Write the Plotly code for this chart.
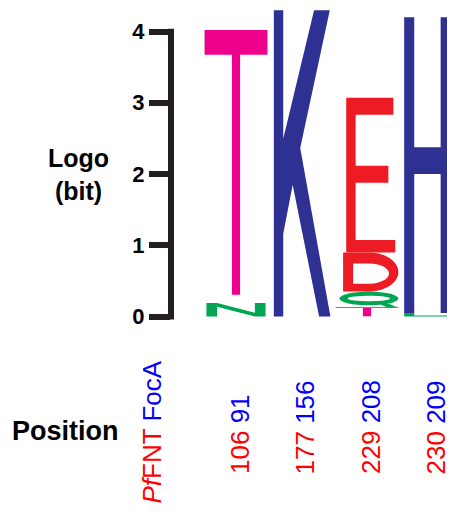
import numpy as np
import plotly.graph_objects as go

# sequence logo: letters stacked bottom -> top, heights in bits
columns = [1, 2, 3, 4]
col_letters = [["N", "T"], ["K"], ["T", "Q", "D", "E"], ["L", "H"]]
col_bits = [[0.19, 3.83], [4.30], [0.13, 0.22, 0.55, 2.17], [0.05, 4.15]]

# residue numbers under each column
pfnt_pos = ["106", "177", "229", "230"]
foca_pos = ["91", "156", "208", "209"]

y_ticks = [0, 1, 2, 3, 4]

letter_colors = {"T": "#EC008C", "K": "#2E3192", "H": "#2E3192",
                 "E": "#ED1C24", "D": "#ED1C24",
                 "N": "#00A651", "Q": "#00A651", "L": "#00A651"}

RED = "#FF0000"
BLUE = "#0000FF"
FONT = "Liberation Sans, Arial, sans-serif"


# letter outlines in a unit box (x right, y up); (points, is_hole)
def arc(cx, cy, rx, ry, a0, a1, n=28):
    t = np.radians(np.linspace(a0, a1, n))
    return list(zip(cx + rx * np.cos(t), cy + ry * np.sin(t)))


GLYPHS = {
    "T": [([(0, 0.91), (0, 1), (1, 1), (1, 0.91), (0.565, 0.91), (0.565, 0.03),
            (0.435, 0.03), (0.435, 0.91)], False)],
    "N": [([(0.03, 0), (0.03, 1), (0.2, 1), (0.8, 0.28), (0.8, 1), (0.97, 1),
            (0.97, 0), (0.8, 0), (0.2, 0.72), (0.2, 0)], False)],
    "K": [([(0.06, 0), (0.06, 1), (0.21, 1), (0.21, 0.58), (0.7, 1), (0.95, 1),
            (0.48, 0.55), (0.96, 0), (0.78, 0), (0.36, 0.43), (0.21, 0.27),
            (0.21, 0)], False)],
    "E": [([(0.17, 0), (0.17, 1), (0.92, 1), (0.92, 0.89), (0.32, 0.89),
            (0.32, 0.56), (0.84, 0.56), (0.84, 0.45), (0.32, 0.45),
            (0.32, 0.08), (0.95, 0.08), (0.95, 0)], False)],
    "D": [([(0.12, 0), (0.12, 1), (0.52, 1)] + arc(0.52, 0.5, 0.48, 0.5, 90, -90), False),
          ([(0.28, 0.2), (0.28, 0.72), (0.52, 0.72)] + arc(0.52, 0.46, 0.33, 0.26, 90, -90), True)],
    "Q": [(arc(0.53, 0.56, 0.47, 0.44, 0, 360), False),
          (arc(0.53, 0.56, 0.34, 0.17, 0, 360), True),
          ([(0.58, 0.4), (0.74, 0.4), (0.98, 0.0), (0.82, 0.0)], False)],
    # H sits at the right edge and is cut off there, as in the source figure
    "H": [([(0.05, 0), (0.05, 1), (0.21, 1), (0.21, 0.56), (0.63, 0.56), (0.63, 1),
            (0.79, 1), (0.79, 0), (0.63, 0), (0.63, 0.47), (0.21, 0.47), (0.21, 0)], False)],
    "L": [([(0.05, 0), (0.05, 1), (0.21, 1), (0.21, 0.3), (0.79, 0.3), (0.79, 0)], False)],
}


def signed_area(pts):
    a = 0.0
    for (x1, y1), (x2, y2) in zip(pts, pts[1:] + pts[:1]):
        a += x1 * y2 - x2 * y1
    return a / 2


def glyph_path(letter, xc, y0, h, w=0.96):
    parts = []
    for pts, hole in GLYPHS[letter]:
        pts = list(pts)
        ccw = signed_area(pts) > 0
        if ccw == hole:
            pts = pts[::-1]
        coords = ["%.4f,%.4f" % (xc - w / 2 + u * w, y0 + v * h) for u, v in pts]
        parts.append("M" + " L".join(coords) + " Z")
    return " ".join(parts)


shapes = []
for xc, letters, bits in zip(columns, col_letters, col_bits):
    base = 0.0
    for letter, b in zip(letters, bits):
        shapes.append(dict(type="path", path=glyph_path(letter, xc, base, b),
                           xref="x", yref="y", fillcolor=letter_colors[letter],
                           fillrule="nonzero", line=dict(width=0), layer="above"))
        base += b

# bracket-style y axis line between 0 and 4
shapes.append(dict(type="line", xref="paper", yref="y", x0=0, x1=0,
                   y0=y_ticks[0] - 0.04, y1=y_ticks[-1] + 0.04,
                   line=dict(color="#231F20", width=6)))

annotations = []
for xc, a, b in zip(columns, pfnt_pos, foca_pos):
    annotations.append(dict(
        text='<span style="color:%s">%s</span> <span style="color:%s">%s</span>' % (RED, a, BLUE, b),
        x=xc, xref="x", xshift=4, y=-0.4534, yref="paper", xanchor="center",
        yanchor="bottom", textangle=-90, showarrow=False,
        font=dict(family=FONT, size=26)))

annotations.append(dict(
    text='<span style="color:%s"><i>Pf</i>FNT</span> <span style="color:%s">FocA</span>' % (RED, BLUE),
    x=-0.067, xref="paper", y=-0.087, yref="paper", xanchor="center",
    yanchor="top", textangle=-90, showarrow=False,
    font=dict(family=FONT, size=26)))

annotations.append(dict(text="<b>Logo<br>(bit)</b>", x=-0.327, xref="paper",
                        y=2.0, yref="y", xanchor="center", yanchor="middle",
                        showarrow=False, font=dict(family=FONT, size=25, color="black")))
annotations.append(dict(text="<b>Position</b>", x=-0.37, xref="paper",
                        y=-0.3137, yref="paper", xanchor="center", yanchor="middle",
                        showarrow=False, font=dict(family=FONT, size=27, color="black")))

fig = go.Figure()
fig.update_layout(
    width=447, height=499,
    margin=dict(l=163, r=0, t=0, b=177),
    paper_bgcolor="white", plot_bgcolor="white",
    showlegend=False,
    shapes=shapes, annotations=annotations,
    xaxis=dict(range=[0.0076, 4.344], visible=False, fixedrange=True),
    yaxis=dict(range=[-0.189, 4.330], tickvals=y_ticks, ticks="outside",
               ticklen=21, tickwidth=6, tickcolor="#231F20", showline=False,
               showgrid=False, zeroline=False, fixedrange=True,
               tickfont=dict(family=FONT, size=22, color="black", weight="bold")),
)

fig.write_html("out.html")
